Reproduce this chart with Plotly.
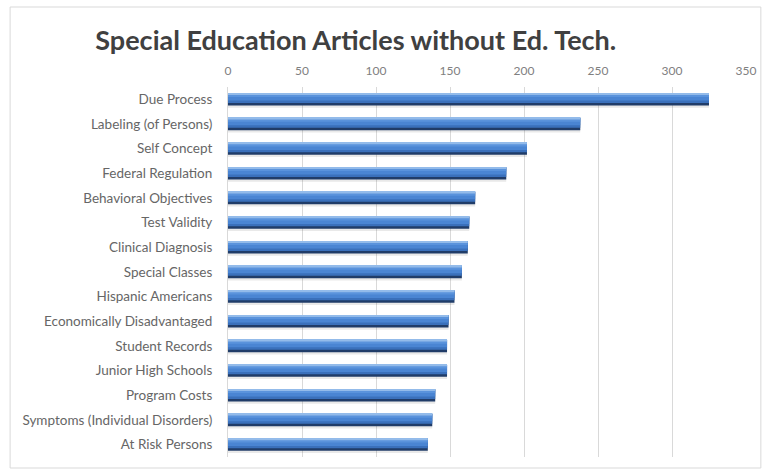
import plotly.graph_objects as go

# Article counts per descriptor
categories = [
    "Due Process", "Labeling (of Persons)", "Self Concept", "Federal Regulation",
    "Behavioral Objectives", "Test Validity", "Clinical Diagnosis", "Special Classes",
    "Hispanic Americans", "Economically Disadvantaged", "Student Records",
    "Junior High Schools", "Program Costs", "Symptoms (Individual Disorders)",
    "At Risk Persons",
]
articles = [325, 238, 202, 188, 167, 163, 162, 158, 153, 149, 148, 148, 140, 138, 135]
tick_values = [0, 50, 100, 150, 200, 250, 300, 350]

# Layers that give each bar a rounded, cylinder-like shading (offset, width, colour)
layers = [
    (-0.20, 0.54, "rgba(70,70,70,0.12)"),   # soft drop shadow
    (-0.25, 0.50, "#203c68"),               # dark rim
    (-0.25, 0.40, "#3a70bb"),               # body
    (-0.25, 0.30, "#4a85d3"),               # bright band
    (-0.25, 0.16, "#5a93dc"),               # upper band
    (-0.25, 0.07, "#93bbea"),               # top edge glint
]

fig = go.Figure()
for off, w, col in layers:
    fig.add_trace(go.Bar(
        x=articles, y=categories, orientation="h",
        offset=off, width=w,
        marker=dict(color=col, line=dict(width=0)),
        hoverinfo="skip", showlegend=False,
    ))

# Light frame round the whole chart
left, right, top, bottom = 228, 751, 87, 457
pw, ph = right - left, bottom - top
def px(p):
    return (p - left) / pw
def py(q):
    return (bottom - q) / ph

fig.add_shape(type="rect", xref="paper", yref="paper",
              x0=px(8), x1=px(766), y0=py(468), y1=py(7),
              line=dict(color="#d9d9d9", width=1), layer="below")

fig.update_layout(
    width=768, height=470,
    margin=dict(l=left, r=768 - right, t=top, b=470 - bottom),
    paper_bgcolor="white", plot_bgcolor="white",
    barmode="overlay",
    font=dict(family="Lato, Open Sans, sans-serif", color="#595959", size=11),
    title=dict(
        text="<b>Special Education Articles without Ed. Tech.</b>",
        font=dict(family="Lato, Open Sans, sans-serif", size=27, color="#404040"),
        x=px(357), xanchor="center", xref="paper",
        y=1 - 41 / 470, yanchor="middle", yref="container",
    ),
    xaxis=dict(
        side="top", range=[0, 350], tickvals=tick_values,
        showgrid=True, gridcolor="#d9d9d9", gridwidth=1,
        zeroline=False, showline=False, ticks="", ticklabelstandoff=9,
        tickfont=dict(size=12, color="#808080"), fixedrange=True,
    ),
    yaxis=dict(
        categoryorder="array", categoryarray=categories, autorange="reversed",
        showgrid=False, zeroline=False, showline=True, linecolor="#d9d9d9",
        ticks="", ticklabelstandoff=12,
        tickfont=dict(size=13.5, color="#666666"), fixedrange=True,
    ),
)

fig.write_html("out.html")
